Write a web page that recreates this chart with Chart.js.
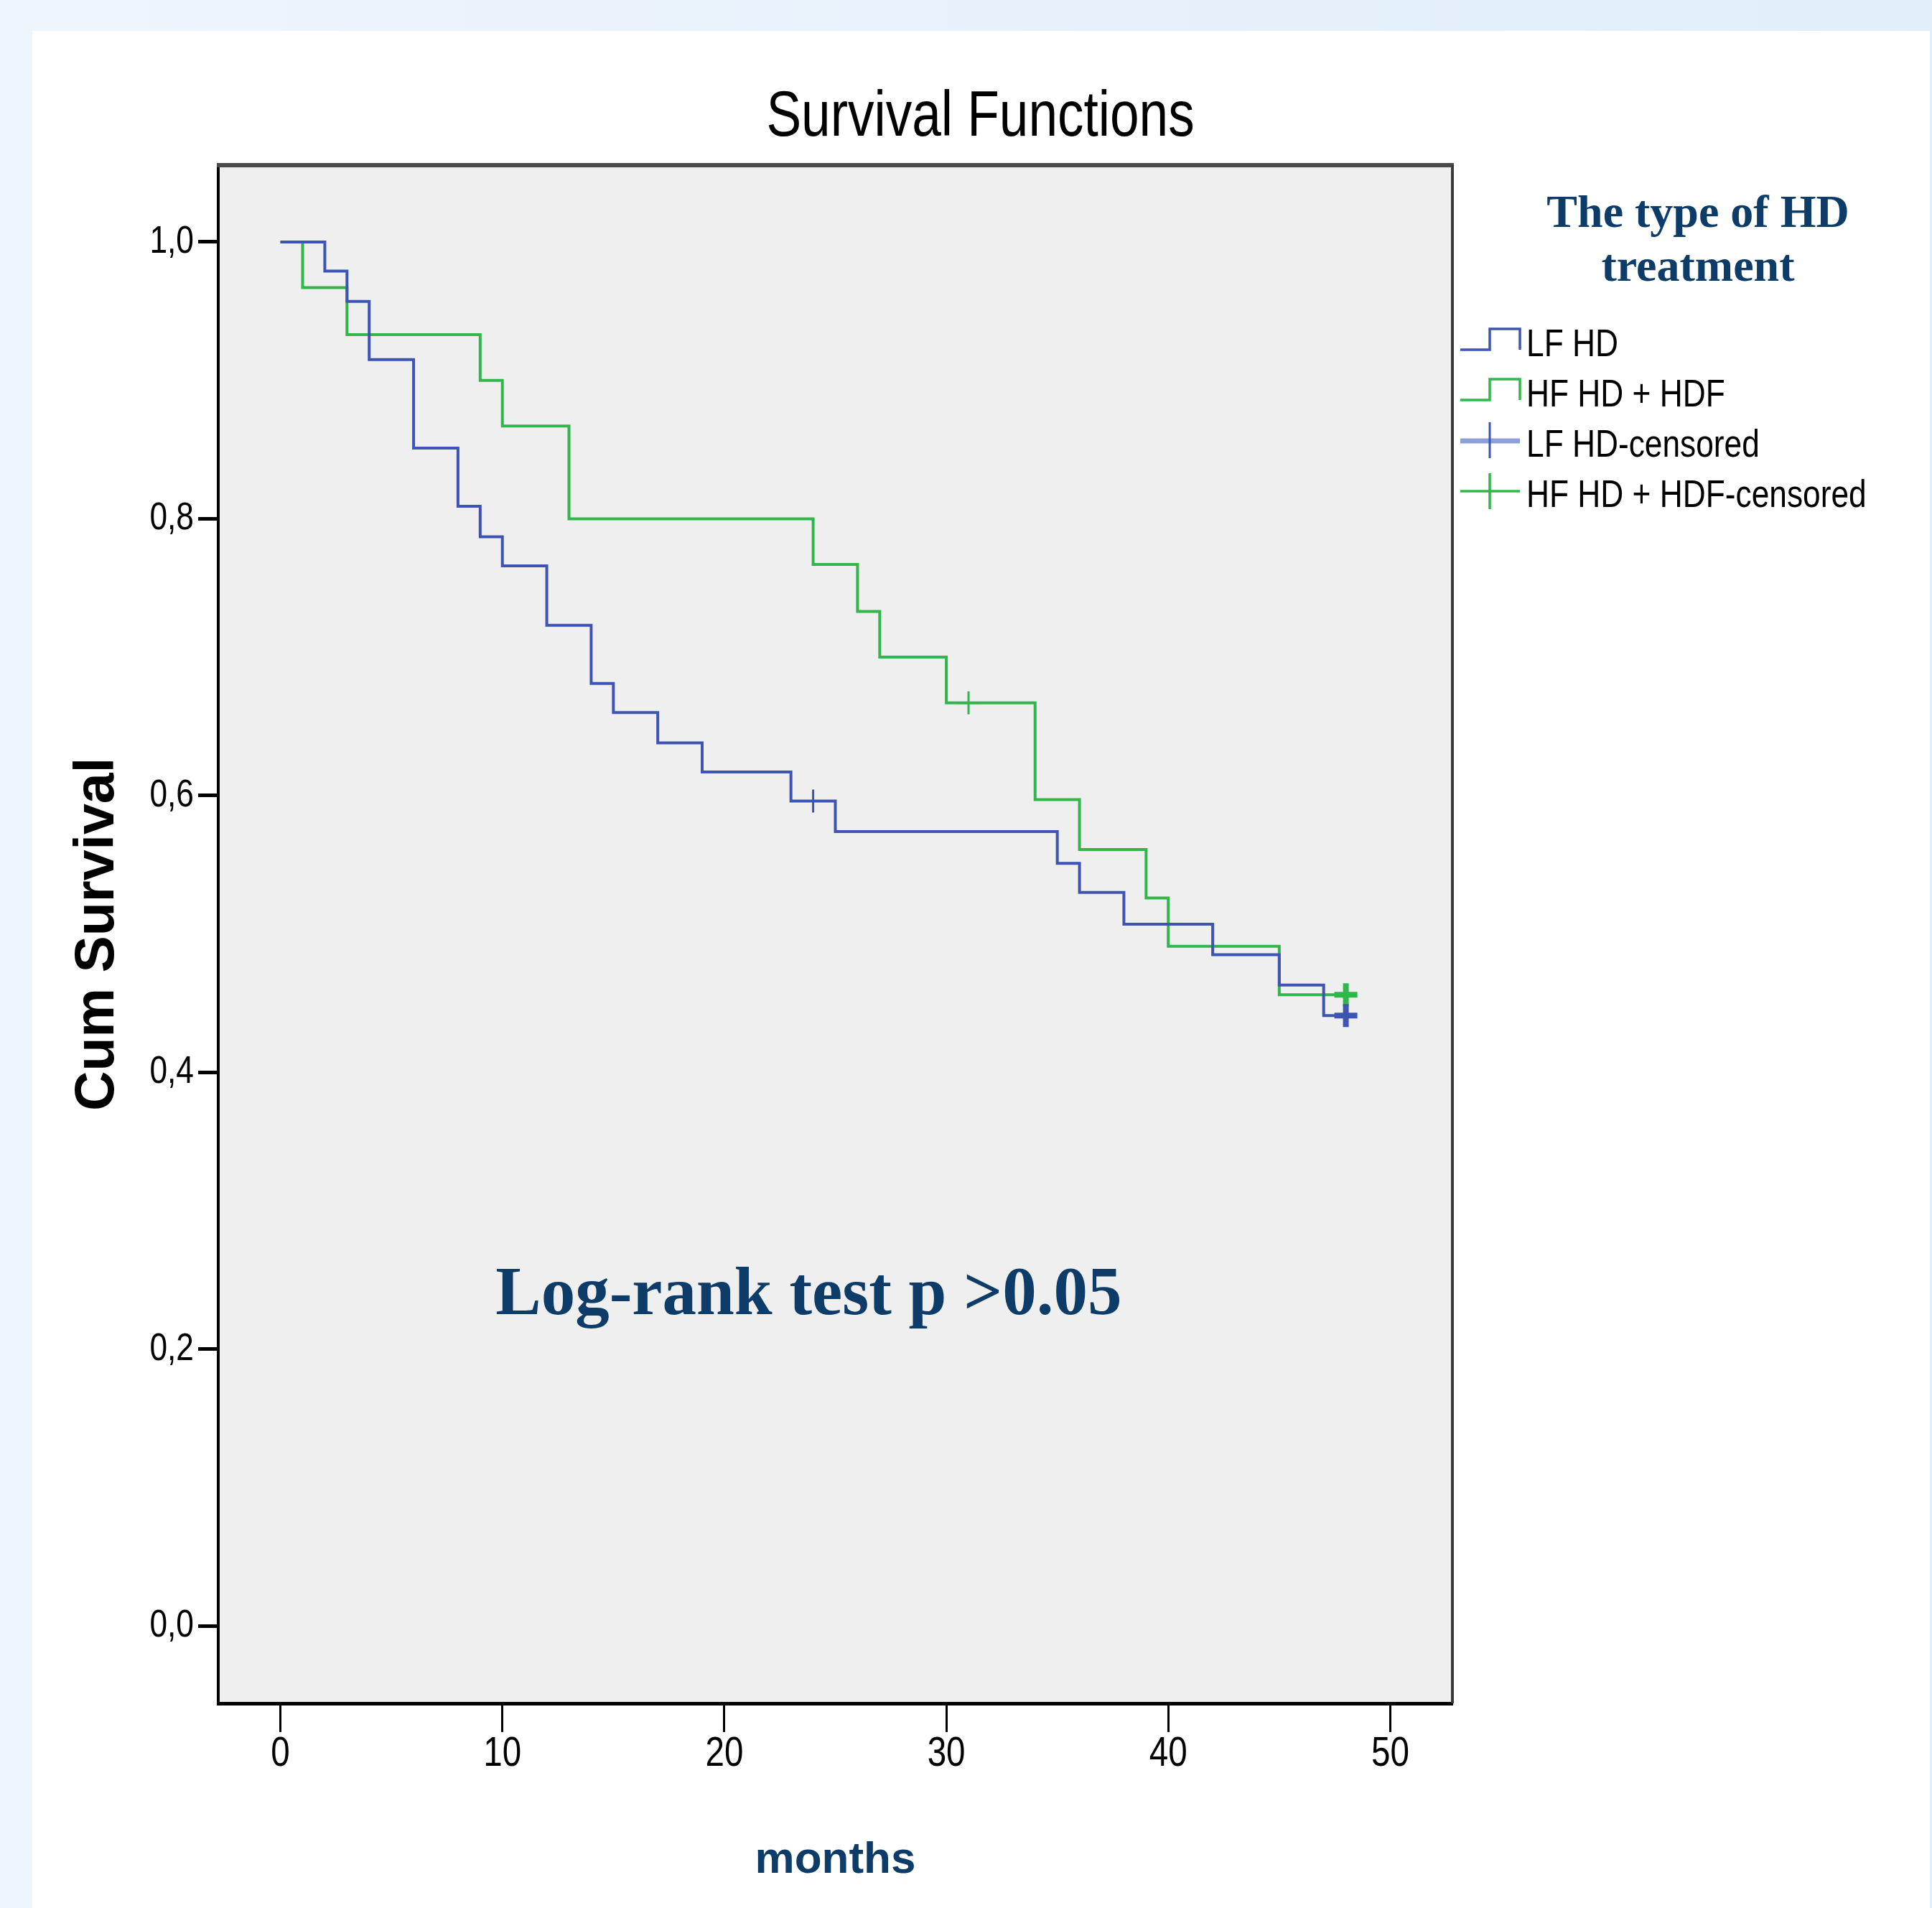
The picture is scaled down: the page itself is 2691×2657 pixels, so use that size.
<!DOCTYPE html>
<html>
<head>
<meta charset="utf-8">
<script src="https://cdn.jsdelivr.net/npm/chart.js@4/dist/chart.umd.min.js"></script>
<style>
html,body{margin:0;padding:0;background:#fff;overflow:hidden}
canvas{display:block}
</style>
</head>
<body>
<canvas id="c" width="2691" height="2657"></canvas>
<script>
// ---------- data ----------
const seriesNames = ['LF HD', 'HF HD + HDF'];
const legendLabels = ['LF HD', 'HF HD + HDF', 'LF HD-censored', 'HF HD + HDF-censored'];
const lfTimes = [0, 2, 3, 4, 6, 8, 9, 10, 12, 14, 15, 17, 19, 23, 25, 35, 36, 38, 42, 45, 47];
const lfSurvival = [1.000, 0.979, 0.957, 0.915, 0.851, 0.809, 0.787, 0.766, 0.723, 0.681, 0.660, 0.638, 0.617, 0.596, 0.574, 0.551, 0.530, 0.507, 0.485, 0.463, 0.441];
const hfTimes = [0, 1, 3, 9, 10, 13, 24, 26, 27, 30, 34, 36, 39, 40, 45];
const hfSurvival = [1.000, 0.967, 0.933, 0.900, 0.867, 0.800, 0.767, 0.733, 0.700, 0.667, 0.597, 0.561, 0.526, 0.491, 0.456];
const lfCensorTimes = [24, 48];
const lfCensorSurvival = [0.596, 0.441];
const hfCensorTimes = [31, 48];
const hfCensorSurvival = [0.667, 0.456];
const followUpEnd = 48;
const xTicks = [0, 10, 20, 30, 40, 50];
const yTicks = [0, 0.2, 0.4, 0.6, 0.8, 1.0];
const yTickLabels = ['0,0', '0,2', '0,4', '0,6', '0,8', '1,0'];
const chartTitle = 'Survival Functions';
const xTitle = 'months';
const yTitle = 'Cum Survival';
const legendTitle = ['The type of HD', 'treatment'];
const annotationText = 'Log-rank test p >0.05';

// ---------- styles ----------
const NARROW_MARK = 'NarrowSansMarker';
const NARROW = '"Liberation Sans", ' + NARROW_MARK + ', Arial, sans-serif';
const NARROW_SCALE = 0.82;
const SANS = '"Liberation Sans", Arial, sans-serif';
const SERIF = '"Liberation Serif", "Times New Roman", serif';
const LF_COLOR = '#3D54B3';
const HF_COLOR = '#30B64B';
const LF_LIGHT = '#8E9FD8';
const NAVY = '#0E3C69';

const canvas = document.getElementById('c');
const ctx2d = canvas.getContext('2d');

// emulate a narrow (condensed) sans face: horizontally condensed Liberation Sans
const nativeFillText = ctx2d.fillText;
const nativeMeasureText = ctx2d.measureText;
ctx2d.fillText = function (text, x, y, maxWidth) {
  if (this.font.indexOf(NARROW_MARK) === -1) {
    return maxWidth === undefined ? nativeFillText.call(this, text, x, y)
                                  : nativeFillText.call(this, text, x, y, maxWidth);
  }
  this.save();
  this.translate(x, y);
  this.scale(NARROW_SCALE, 1);
  if (maxWidth === undefined) nativeFillText.call(this, text, 0, 0);
  else nativeFillText.call(this, text, 0, 0, maxWidth / NARROW_SCALE);
  this.restore();
};
ctx2d.measureText = function (text) {
  const m = nativeMeasureText.call(this, text);
  if (this.font.indexOf(NARROW_MARK) === -1) return m;
  return {
    width: m.width * NARROW_SCALE,
    actualBoundingBoxAscent: m.actualBoundingBoxAscent,
    actualBoundingBoxDescent: m.actualBoundingBoxDescent,
    actualBoundingBoxLeft: m.actualBoundingBoxLeft * NARROW_SCALE,
    actualBoundingBoxRight: m.actualBoundingBoxRight * NARROW_SCALE
  };
};

function kmPoints(times, vals) {
  const pts = times.map((t, i) => ({x: t, y: vals[i]}));
  pts.push({x: followUpEnd, y: vals[vals.length - 1]});
  return pts;
}
function censorPoints(times, vals) {
  return times.map((t, i) => ({x: t, y: vals[i]}));
}

const pagePlugin = {
  id: 'page',
  beforeDraw(chart) {
    const {ctx, width, height, chartArea: a} = chart;
    ctx.save();
    const g = ctx.createLinearGradient(0, 0, width, 0);
    g.addColorStop(0, '#EDF5FD');
    g.addColorStop(1, '#E1EEFA');
    ctx.fillStyle = g;
    ctx.fillRect(0, 0, width, height);
    ctx.fillStyle = '#FFFFFF';
    ctx.fillRect(45, 43, 2643, height - 43);
    ctx.fillStyle = '#EFEFEF';
    ctx.fillRect(a.left, a.top, a.right - a.left, a.bottom - a.top);
    ctx.restore();
  },
  afterDatasetsDraw(chart) {
    const {ctx, chartArea: a, scales} = chart;
    ctx.save();
    // frame top / right
    ctx.strokeStyle = '#4A4A4A';
    ctx.lineWidth = 6;
    ctx.beginPath();
    ctx.moveTo(a.left - 2, a.top);
    ctx.lineTo(a.right + 2, a.top);
    ctx.stroke();
    ctx.strokeStyle = '#3A3A3A';
    ctx.lineWidth = 4;
    ctx.beginPath();
    ctx.moveTo(a.right, a.top);
    ctx.lineTo(a.right, a.bottom);
    ctx.stroke();

    // annotation
    ctx.fillStyle = NAVY;
    ctx.font = 'bold 95px ' + SERIF;
    ctx.textAlign = 'center';
    ctx.textBaseline = 'alphabetic';
    ctx.fillText(annotationText, scales.x.getPixelForValue(23.8), scales.y.getPixelForValue(0.225));

    // legend
    const cx = a.right + 342;
    ctx.font = 'bold 64px ' + SERIF;
    ctx.fillText(legendTitle[0], cx, a.top + 86);
    ctx.fillText(legendTitle[1], cx, a.top + 161);

    const lx = a.right + 11;
    const iw = 83;
    const mid = lx + 41;
    const rowY = i => a.top + 248 + i * 70;
    ctx.lineCap = 'butt';
    ctx.lineJoin = 'miter';
    [[LF_COLOR, 0], [HF_COLOR, 1]].forEach(([col, i]) => {
      const y = rowY(i);
      ctx.strokeStyle = col;
      ctx.lineWidth = 3.5;
      ctx.beginPath();
      ctx.moveTo(lx, y + 9);
      ctx.lineTo(mid, y + 9);
      ctx.lineTo(mid, y - 20);
      ctx.lineTo(lx + iw, y - 20);
      ctx.lineTo(lx + iw, y + 9);
      ctx.stroke();
    });
    let y = rowY(2);
    ctx.strokeStyle = LF_LIGHT; ctx.lineWidth = 7;
    ctx.beginPath(); ctx.moveTo(lx, y - 4); ctx.lineTo(lx + iw, y - 4); ctx.stroke();
    ctx.strokeStyle = LF_COLOR; ctx.lineWidth = 3;
    ctx.beginPath(); ctx.moveTo(mid, y - 30); ctx.lineTo(mid, y + 20); ctx.stroke();
    y = rowY(3);
    ctx.strokeStyle = HF_COLOR; ctx.lineWidth = 3.5;
    ctx.beginPath(); ctx.moveTo(lx, y - 4); ctx.lineTo(lx + iw, y - 4); ctx.stroke();
    ctx.beginPath(); ctx.moveTo(mid, y - 29); ctx.lineTo(mid, y + 21); ctx.stroke();

    ctx.fillStyle = '#000000';
    ctx.font = '54px ' + NARROW;
    ctx.textAlign = 'left';
    ctx.textBaseline = 'middle';
    legendLabels.forEach((t, i) => ctx.fillText(t, a.right + 103, rowY(i) + 3));
    ctx.restore();
  }
};

const lastIdx = c => c.dataset.data.length - 1;

new Chart(ctx2d, {
  type: 'line',
  data: {
    datasets: [
      {label: seriesNames[0], data: kmPoints(lfTimes, lfSurvival), borderColor: LF_COLOR, borderWidth: 4,
       stepped: 'before', pointRadius: 0, pointHoverRadius: 0, fill: false},
      {label: seriesNames[1], data: kmPoints(hfTimes, hfSurvival), borderColor: HF_COLOR, borderWidth: 4,
       stepped: 'before', pointRadius: 0, pointHoverRadius: 0, fill: false},
      {label: legendLabels[2], data: censorPoints(lfCensorTimes, lfCensorSurvival), showLine: false,
       pointStyle: 'cross', pointRadius: 16, pointHoverRadius: 16, pointBorderColor: LF_COLOR,
       pointBorderWidth: c => c.dataIndex === lastIdx(c) ? 8 : 3},
      {label: legendLabels[3], data: censorPoints(hfCensorTimes, hfCensorSurvival), showLine: false,
       pointStyle: 'cross', pointRadius: 16, pointHoverRadius: 16, pointBorderColor: HF_COLOR,
       pointBorderWidth: c => c.dataIndex === lastIdx(c) ? 8 : 3}
    ]
  },
  options: {
    responsive: false,
    animation: false,
    events: [],
    layout: {padding: {left: 40, right: 0, top: 0, bottom: 0}},
    plugins: {
      legend: {display: false},
      tooltip: {enabled: false},
      title: {display: true, text: chartTitle, color: '#000000',
              font: {family: NARROW, size: 89, weight: 'normal', lineHeight: 1},
              padding: {top: 119.5, bottom: 21.5}}
    },
    scales: {
      x: {
        type: 'linear', position: 'bottom', min: -2.8, max: 52.8,
        afterFit: s => { s.height = 285; },
        afterBuildTicks: s => { s.ticks = xTicks.map(v => ({value: v})); },
        ticks: {color: '#000000', font: {family: NARROW, size: 58, lineHeight: 1}, padding: 2,
                maxRotation: 0, autoSkip: false, callback: v => String(v)},
        grid: {display: true, drawOnChartArea: false, drawTicks: true, tickLength: 40, tickWidth: 3, tickColor: '#000000'},
        border: {display: true, color: '#000000', width: 5},
        title: {display: true, text: xTitle, color: NAVY,
                font: {family: SANS, size: 62, weight: 'bold', lineHeight: 1}, padding: {top: 0, bottom: 35}}
      },
      y: {
        type: 'linear', position: 'left', min: -0.056, max: 1.0555,
        afterFit: s => { s.width = 264; },
        afterBuildTicks: s => { s.ticks = yTicks.map(v => ({value: v})); },
        ticks: {color: '#000000', font: {family: NARROW, size: 54, lineHeight: 1}, padding: 6,
                autoSkip: false, callback: v => yTickLabels[yTicks.indexOf(v)]},
        grid: {display: true, drawOnChartArea: false, drawTicks: true, tickLength: 28, tickWidth: 5, tickColor: '#000000'},
        border: {display: true, color: '#000000', width: 4},
        title: {display: true, text: yTitle, color: '#000000',
                font: {family: SANS, size: 77, weight: 'bold', lineHeight: 1}, padding: {top: 58, bottom: 0}}
      },
      legendSpace: {
        type: 'linear', position: 'right', display: true,
        afterFit: s => { s.width = 668; },
        ticks: {display: false},
        grid: {display: false},
        border: {display: false}
      }
    }
  },
  plugins: [pagePlugin]
});
</script>
</body>
</html>
